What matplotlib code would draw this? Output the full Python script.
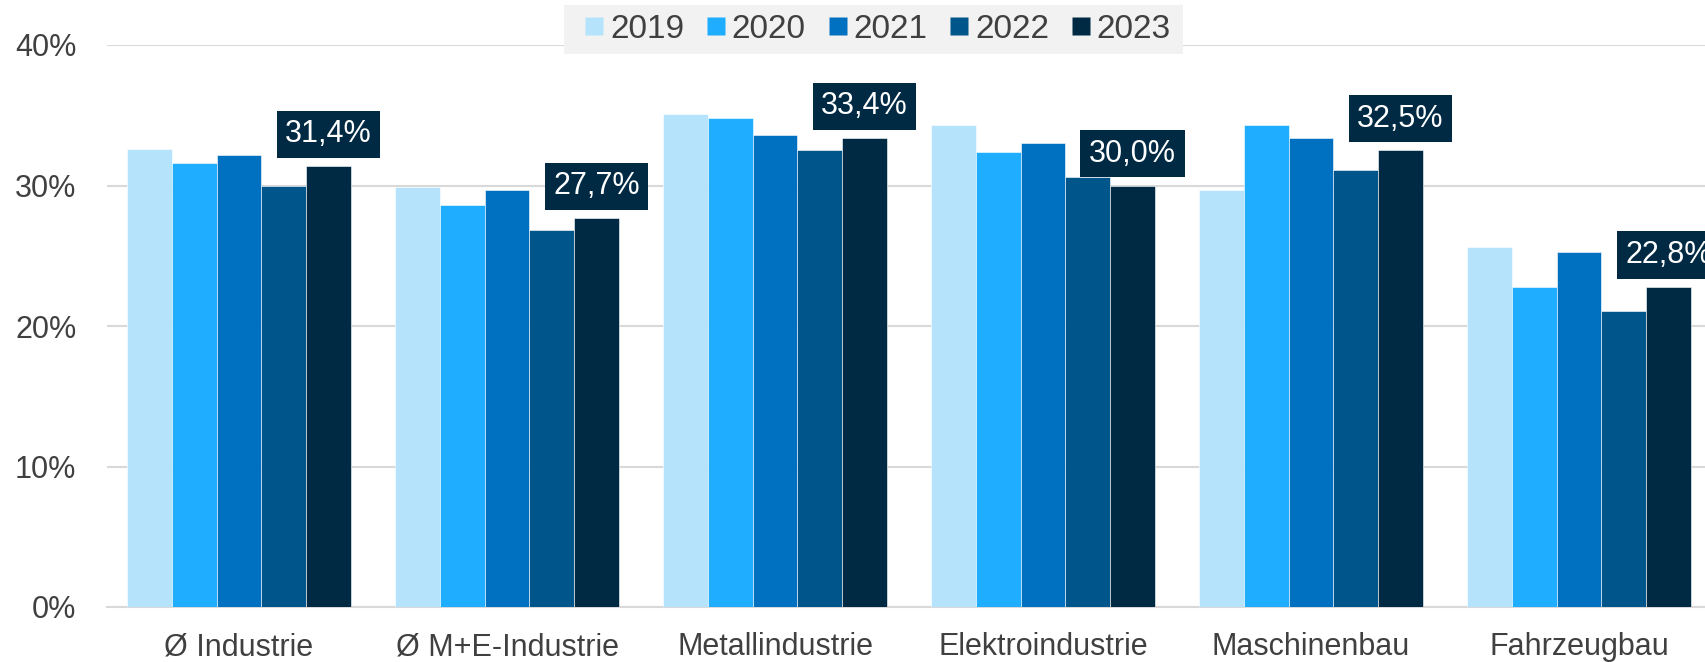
import numpy as np
import matplotlib
matplotlib.use("Agg")
import matplotlib.pyplot as plt
from matplotlib.lines import Line2D
from matplotlib.patches import Rectangle

plt.rcParams['font.family'] = ['Liberation Sans', 'DejaVu Sans']

# Data
categories = ['Ø Industrie', 'Ø M+E-Industrie', 'Metallindustrie',
              'Elektroindustrie', 'Maschinenbau', 'Fahrzeugbau']
years = ['2019', '2020', '2021', '2022', '2023']
values = {
    '2019': [32.6, 29.9, 35.1, 34.3, 29.7, 25.6],
    '2020': [31.6, 28.6, 34.8, 32.4, 34.3, 22.8],
    '2021': [32.2, 29.7, 33.6, 33.0, 33.4, 25.3],
    '2022': [30.0, 26.8, 32.5, 30.6, 31.1, 21.1],
    '2023': [31.4, 27.7, 33.4, 30.0, 32.5, 22.8],
}
labels_2023 = ['31,4%', '27,7%', '33,4%', '30,0%', '32,5%', '22,8%']
colors = ['#B5E3FC', '#1FADFF', '#0070C0', '#00558A', '#002A43']

W, H = 1705, 662
fig = plt.figure(figsize=(W / 100, H / 100), dpi=100)
ax = fig.add_axes([107 / W, 1 - 607 / H, 1 - 107 / W, (607 - 45) / H])

x = np.arange(len(categories))
w = 0.167
for i, yr in enumerate(years):
    bars = ax.bar(x + (i - 2) * w, values[yr], width=w, color=colors[i],
                  edgecolor='white', linewidth=0.4, zorder=3)
    if yr == '2023':
        # value boxes on the latest year only
        for b, lab in zip(bars, labels_2023):
            ax.annotate(lab, (b.get_x() + b.get_width() / 2, b.get_height()),
                        xytext=(0, 12), textcoords='offset points',
                        ha='center', va='bottom', fontsize=22, color='white',
                        bbox=dict(boxstyle='square,pad=0.28', facecolor='#002A43',
                                  edgecolor='none'),
                        annotation_clip=False, zorder=5)

ax.set_xlim(-0.4925, 5.47)
ax.set_ylim(0, 40)
ax.set_yticks([0, 10, 20, 30, 40])
ax.set_yticklabels(['0%', '10%', '20%', '30%', '40%'])
ax.set_xticks(x)
ax.set_xticklabels(categories)
ax.tick_params(axis='y', length=0, pad=22, labelsize=22, labelcolor='#404040')
ax.tick_params(axis='x', length=0, pad=18, labelsize=22, labelcolor='#404040')
ax.grid(axis='y', color='#D9D9D9', linewidth=1.5, zorder=0)
for s in ['top', 'right', 'left']:
    ax.spines[s].set_visible(False)
ax.spines['bottom'].set_color('#D9D9D9')
ax.spines['bottom'].set_linewidth(1.5)

# legend background box drawn by hand, legend itself without frame
fig.patches.append(Rectangle((564 / W, 1 - 54 / H), (1183 - 564) / W, 49 / H,
                             transform=fig.transFigure, facecolor='#F2F2F2',
                             edgecolor='none', zorder=4))
handles = [Line2D([], [], marker='s', linestyle='none', markersize=12.5,
                  markerfacecolor=c, markeredgecolor='none') for c in colors]
leg = fig.legend(handles, years, loc='center', bbox_to_anchor=(878 / W, 1 - 29.5 / H),
                 ncol=5, frameon=False, fontsize=24, handlelength=0.55, handletextpad=0.2,
                 columnspacing=0.68, borderpad=0.0)
leg.set_zorder(6)
for t in leg.get_texts():
    t.set_color('#404040')

fig.savefig('out.png', dpi=100)
